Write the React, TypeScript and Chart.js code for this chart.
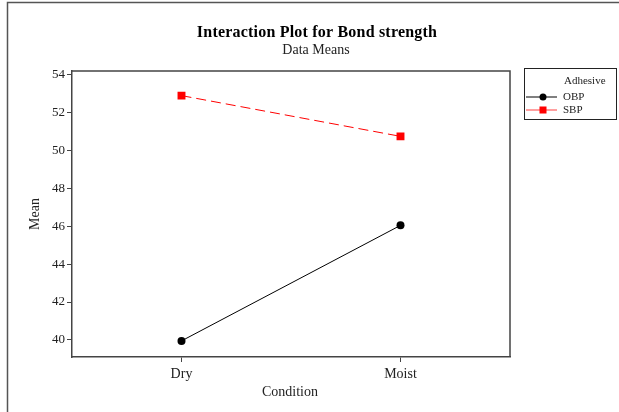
import React, { useEffect, useRef } from "react";
import { Chart, registerables } from "chart.js";

Chart.register(...registerables);

const categories = ["Dry", "Moist"];
const obpMeans = [39.95, 46.05];
const sbpMeans = [52.9, 50.75];
const yTickValues = [40, 42, 44, 46, 48, 50, 52, 54];
const seriesNames = ["OBP", "SBP"];

const SERIF = "'Liberation Serif', 'Times New Roman', serif";

const decorPlugin = {
  id: "decor",
  afterDraw(chart: any) {
    const ctx = chart.ctx as CanvasRenderingContext2D;
    const a = chart.chartArea;
    ctx.save();
    // outer frame (top + left)
    ctx.strokeStyle = "#555";
    ctx.lineWidth = 1.5;
    ctx.beginPath();
    ctx.moveTo(7.5, 412);
    ctx.lineTo(7.5, 2.5);
    ctx.lineTo(619, 2.5);
    ctx.stroke();

    // plot box top + right
    ctx.strokeStyle = "#444";
    ctx.lineWidth = 1.5;
    ctx.beginPath();
    ctx.moveTo(a.left, a.top);
    ctx.lineTo(a.right, a.top);
    ctx.lineTo(a.right, a.bottom);
    ctx.stroke();

    // titles
    ctx.fillStyle = "#000";
    ctx.textAlign = "center";
    ctx.textBaseline = "middle";
    ctx.font = `bold 16px ${SERIF}`;
    (ctx as any).letterSpacing = "0.2px";
    ctx.fillText("Interaction Plot for Bond strength", 317, 33);
    (ctx as any).letterSpacing = "0px";
    ctx.font = `14px ${SERIF}`;
    ctx.fillStyle = "#222";
    ctx.fillText("Data Means", 316, 50);

    // axis titles
    ctx.font = `14px ${SERIF}`;
    ctx.fillStyle = "#222";
    ctx.fillText("Condition", 290, 392);
    ctx.save();
    ctx.translate(35, 214);
    ctx.rotate(-Math.PI / 2);
    ctx.fillText("Mean", 0, 0);
    ctx.restore();

    // legend
    ctx.strokeStyle = "#222";
    ctx.lineWidth = 1;
    ctx.strokeRect(524.5, 68.5, 92, 51);
    ctx.font = `11px ${SERIF}`;
    ctx.fillStyle = "#222";
    ctx.textAlign = "left";
    ctx.fillText("Adhesive", 564, 81);
    // OBP
    ctx.strokeStyle = "#000";
    ctx.lineWidth = 1;
    ctx.beginPath();
    ctx.moveTo(526, 97);
    ctx.lineTo(557, 97);
    ctx.stroke();
    ctx.fillStyle = "#000";
    ctx.beginPath();
    ctx.arc(543, 97, 3.5, 0, Math.PI * 2);
    ctx.fill();
    ctx.fillStyle = "#222";
    ctx.fillText(seriesNames[0], 563, 97);
    // SBP
    ctx.strokeStyle = "#ff4040";
    ctx.beginPath();
    ctx.moveTo(526, 110);
    ctx.lineTo(557, 110);
    ctx.stroke();
    ctx.fillStyle = "#ff0000";
    ctx.fillRect(539.5, 106.5, 7, 7);
    ctx.fillStyle = "#222";
    ctx.fillText(seriesNames[1], 563, 110);
    ctx.restore();
  },
};

export default function App() {
  const ref = useRef<HTMLCanvasElement>(null);
  useEffect(() => {
    if (!ref.current) return;
    const chart = new Chart(ref.current, {
      type: "line",
      data: {
        labels: categories,
        datasets: [
          {
            label: seriesNames[0],
            data: obpMeans,
            borderColor: "#000",
            backgroundColor: "#000",
            borderWidth: 1,
            pointStyle: "circle",
            pointRadius: 4,
            pointBorderWidth: 0,
            tension: 0,
          },
          {
            label: seriesNames[1],
            data: sbpMeans,
            borderColor: "#ff0000",
            backgroundColor: "#ff0000",
            borderWidth: 1,
            borderDash: [10, 5],
            pointStyle: "rect",
            pointRadius: 5.6,
            pointBorderWidth: 0,
            tension: 0,
          },
        ],
      },
      options: {
        responsive: false,
        animation: false,
        events: [],
        layout: { padding: { top: 71, right: 109, left: 0, bottom: 0 } },
        plugins: {
          legend: { display: false },
          title: { display: false },
          tooltip: { enabled: false },
        },
        scales: {
          x: {
            type: "category",
            offset: true,
            grid: {
              display: true,
              drawOnChartArea: false,
              offset: false,
              tickLength: 5,
              color: "#444",
              lineWidth: 1,
            },
            border: { display: true, color: "#444", width: 1.5 },
            ticks: {
              font: { family: SERIF, size: 14 },
              color: "#222",
              padding: 4,
              maxRotation: 0,
            },
            afterFit: (s: any) => {
              s.height = 55;
            },
          },
          y: {
            min: 39.1,
            max: 54.2,
            grid: {
              display: true,
              drawOnChartArea: false,
              tickLength: 5,
              color: "#444",
              lineWidth: 1,
            },
            border: { display: true, color: "#444", width: 1.5 },
            ticks: {
              font: { family: SERIF, size: 13 },
              color: "#222",
              padding: 2,
            },
            afterBuildTicks: (s: any) => {
              s.ticks = yTickValues.map((v) => ({ value: v }));
            },
            afterFit: (s: any) => {
              s.width = 72;
            },
          },
        },
      },
      plugins: [decorPlugin],
    } as any);
    return () => chart.destroy();
  }, []);
  return (
    <div style={{ position: "absolute", left: 0, top: 0, width: 619, height: 412, background: "#fff" }}>
      <canvas ref={ref} width={619} height={412} style={{ display: "block", width: 619, height: 412 }} />
    </div>
  );
}
